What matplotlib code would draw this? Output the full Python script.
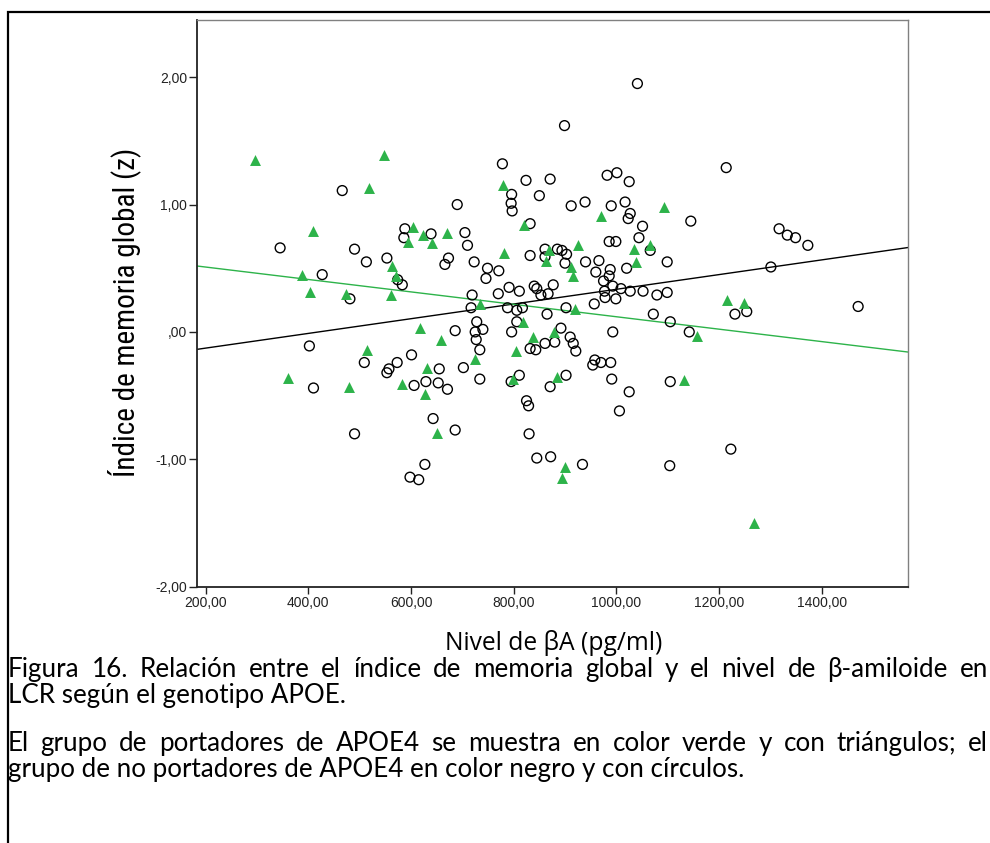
import matplotlib
matplotlib.use('Agg')
import matplotlib.pyplot as plt
from matplotlib import font_manager
from matplotlib.patches import Rectangle

# APOE4 carriers (green triangles): beta-amyloid level, global memory index
carrier_x = [297, 548, 518, 410, 603, 623, 670, 594, 641, 387, 562, 571, 403, 474,
             561, 617, 658, 780, 821, 970, 1093, 782, 869, 863, 925, 912, 916, 1035,
             1066, 1038, 734, 919, 819, 838, 878, 1216, 1249, 1157, 361, 515, 479,
             631, 583, 627, 650, 804, 725, 799, 884, 900, 894, 1132, 1269]
carrier_y = [1.35, 1.39, 1.13, 0.79, 0.82, 0.76, 0.78, 0.71, 0.70, 0.45, 0.52, 0.44,
             0.31, 0.30, 0.29, 0.03, -0.06, 1.15, 0.84, 0.91, 0.98, 0.62, 0.64, 0.56,
             0.68, 0.51, 0.44, 0.65, 0.68, 0.55, 0.22, 0.18, 0.08, -0.04, 0.00, 0.25,
             0.23, -0.03, -0.36, -0.14, -0.43, -0.28, -0.41, -0.49, -0.79, -0.15,
             -0.21, -0.37, -0.35, -1.06, -1.15, -0.38, -1.50]

# non carriers (black circles)
noncarrier_x = [1041, 899, 466, 690, 588, 586, 639, 705, 710, 345, 490, 513, 553, 673,
                666, 427, 574, 583, 481, 686, 778, 824, 871, 982, 1001, 1025, 796, 850,
                795, 797, 912, 939, 990, 1017, 1027, 1023, 832, 1051, 1044, 986, 999,
                1066, 832, 861, 861, 885, 894, 903, 900, 940, 966, 723, 749, 771, 746,
                960, 988, 986, 1020, 1099, 975, 993, 977, 1009, 1027, 1052, 1079, 1099,
                791, 811, 840, 845, 853, 867, 877, 770, 719, 717, 788, 806, 817, 865,
                902, 957, 978, 999, 1072, 1105, 728, 740, 725, 806, 796, 892, 910, 993,
                1214, 1145, 1317, 1333, 1349, 1373, 1301, 1231, 1254, 1471, 1142, 402,
                509, 601, 573, 557, 553, 410, 655, 702, 606, 629, 653, 671, 643, 686,
                490, 627, 598, 615, 727, 734, 861, 880, 843, 832, 916, 921, 958, 954,
                970, 989, 734, 795, 811, 871, 902, 991, 1025, 1006, 825, 829, 830, 845,
                872, 934, 1105, 1104, 1223]
noncarrier_y = [1.95, 1.62, 1.11, 1.00, 0.81, 0.74, 0.77, 0.78, 0.68, 0.66, 0.65, 0.55,
                0.58, 0.58, 0.53, 0.45, 0.41, 0.37, 0.26, 0.01, 1.32, 1.19, 1.20, 1.23,
                1.25, 1.18, 1.08, 1.07, 1.01, 0.95, 0.99, 1.02, 0.99, 1.02, 0.93, 0.89,
                0.85, 0.83, 0.74, 0.71, 0.71, 0.64, 0.60, 0.65, 0.59, 0.65, 0.64, 0.61,
                0.54, 0.55, 0.56, 0.55, 0.50, 0.48, 0.42, 0.47, 0.49, 0.44, 0.50, 0.55,
                0.40, 0.36, 0.32, 0.34, 0.32, 0.32, 0.29, 0.31, 0.35, 0.32, 0.36, 0.34,
                0.29, 0.30, 0.37, 0.30, 0.29, 0.19, 0.19, 0.17, 0.19, 0.14, 0.19, 0.22,
                0.27, 0.26, 0.14, 0.08, 0.08, 0.02, 0.00, 0.08, 0.00, 0.03, -0.04, 0.00,
                1.29, 0.87, 0.81, 0.76, 0.74, 0.68, 0.51, 0.14, 0.16, 0.20, 0.00, -0.11,
                -0.24, -0.18, -0.24, -0.29, -0.32, -0.44, -0.29, -0.28, -0.42, -0.39,
                -0.40, -0.45, -0.68, -0.77, -0.80, -1.04, -1.14, -1.16, -0.06, -0.14,
                -0.09, -0.08, -0.14, -0.13, -0.09, -0.15, -0.22, -0.26, -0.24, -0.24,
                -0.37, -0.39, -0.34, -0.43, -0.34, -0.37, -0.47, -0.62, -0.54, -0.58,
                -0.80, -0.99, -0.98, -1.04, -0.39, -1.05, -0.92]

# fit lines read at the two ends of the x axis
fit_x = [182.5, 1568.7]
fit_noncarrier = [-0.137, 0.663]
fit_carrier = [0.518, -0.158]

x_ticks = [200, 400, 600, 800, 1000, 1200, 1400]
x_tick_labels = ['200,00', '400,00', '600,00', '800,00', '1000,00', '1200,00', '1400,00']
y_ticks = [-2, -1, 0, 1, 2]
y_tick_labels = ['-2,00', '-1,00', ',00', '1,00', '2,00']

# caption lines; True = justified line (not the last of its paragraph)
caption = ['Figura 16. Relación entre el índice de memoria global y el nivel de β-amiloide en',
           'LCR según el genotipo APOE.',
           'El grupo de portadores de APOE4 se muestra en color verde y con triángulos; el',
           'grupo de no portadores de APOE4 en color negro y con círculos.']
justified = [True, False, True, False]

GREEN = '#2db34a'
W, H = 990, 843
CAP_FONT = ['Lato', 'DejaVu Sans']

installed = {f.name for f in font_manager.fontManager.ttflist}
narrow = 'DejaVu Sans'
for name in ['Liberation Sans Narrow', 'DejaVu Sans Condensed', 'Roboto Condensed',
             'Open Sans Condensed', 'Noto Sans']:
    if name in installed:
        narrow = name
        break

fig = plt.figure(figsize=(W / 100, H / 100), dpi=100)
ax = fig.add_axes([196.7 / W, 1 - 586.7 / H, (908.3 - 196.7) / W, (586.7 - 20) / H])

ax.plot(fit_x, fit_noncarrier, color='black', lw=1.0, zorder=1)
ax.plot(fit_x, fit_carrier, color=GREEN, lw=1.0, zorder=1)
ax.scatter(noncarrier_x, noncarrier_y, s=50, facecolors='none', edgecolors='black',
           linewidths=1.0, zorder=2)
ax.scatter(carrier_x, carrier_y, s=62, marker='^', color=GREEN, linewidths=0, zorder=3)

ax.set_xlim(fit_x[0], fit_x[1])
ax.set_ylim(-2.0, 2.449)
ax.set_xticks(x_ticks)
ax.set_xticklabels(x_tick_labels, family='Liberation Sans', fontsize=10)
ax.set_yticks(y_ticks)
ax.set_yticklabels(y_tick_labels, family='Liberation Sans', fontsize=10)
ax.tick_params(axis='x', direction='out', length=5, width=1, pad=2, colors='#222222')
ax.tick_params(axis='y', direction='out', length=6, width=1, pad=1, colors='#222222')
for side in ['left', 'bottom']:
    ax.spines[side].set_color('#222222')
    ax.spines[side].set_linewidth(1.3)
for side in ['top', 'right']:
    ax.spines[side].set_color('#808080')
    ax.spines[side].set_linewidth(1.0)

# outer frame around the whole figure
fig.patches.append(Rectangle((7.5 / W, -0.05), 1.1, 1.05 - 11.5 / H, transform=fig.transFigure,
                             fill=False, edgecolor='black', lw=1.6))

ylab = fig.text(124 / W, 1 - 312 / H, 'Índice de memoria global (z)', rotation=90,
                ha='center', va='center', family=[narrow, 'DejaVu Sans'], fontsize=15)
xlab = fig.text(445 / W, 1 - 650 / H, 'Nivel de βA (pg/ml)', ha='left', va='baseline',
                family=['Open Sans', 'DejaVu Sans'], fontsize=16)

# scale the free texts to the widths seen in the original
fig.canvas.draw()
r = fig.canvas.get_renderer()
h = ylab.get_window_extent(r).height
ylab.set_fontsize(ylab.get_fontsize() * 330 / h)
w = xlab.get_window_extent(r).width
xlab.set_fontsize(xlab.get_fontsize() * 217 / w)

probe = fig.text(0, 0, caption[3], family=CAP_FONT, fontsize=14)
cap_size = 14 * 738 / probe.get_window_extent(r).width
probe.remove()

# caption: justified lines spread their words between the margins
left, right = 8, 988
baselines = [677, 703, 751, 777]
for line, b, just in zip(caption, baselines, justified):
    y = 1 - b / H
    if not just:
        fig.text(left / W, y, line, ha='left', va='baseline', family=CAP_FONT, fontsize=cap_size)
        continue
    words = line.split(' ')
    pieces = [fig.text(0, y, wd, ha='left', va='baseline', family=CAP_FONT, fontsize=cap_size)
              for wd in words]
    widths = [p.get_window_extent(r).width for p in pieces]
    gap = (right - left - sum(widths)) / (len(words) - 1)
    xpos = left
    for p, wd in zip(pieces, widths):
        p.set_x(xpos / W)
        xpos += wd + gap

fig.savefig('out.png', dpi=100)
plt.close(fig)
